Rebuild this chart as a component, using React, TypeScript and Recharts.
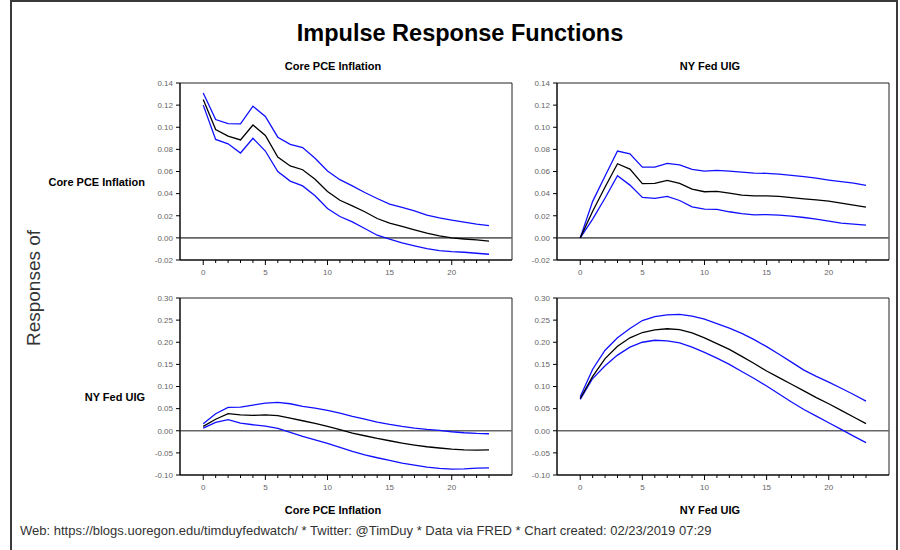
import React from "react";
import { LineChart, Line, XAxis, YAxis, ReferenceLine, ReferenceArea } from "recharts";

const FONT = "'Liberation Sans', Arial, Helvetica, sans-serif";

// horizon (periods after shock)
const periods = [0, 1, 2, 3, 4, 5, 6, 7, 8, 9, 10, 11, 12, 13, 14, 15, 16, 17, 18, 19, 20, 21, 22, 23];
const xLabelTicks = [0, 5, 10, 15, 20];

// Core PCE Inflation -> Core PCE Inflation
const pceToPce = [0.125, 0.098, 0.092, 0.0885, 0.102, 0.0925, 0.073, 0.065, 0.0616, 0.053, 0.042, 0.034, 0.029, 0.0236, 0.0175, 0.0133, 0.0103, 0.0073, 0.0042, 0.0018, 0.0, -0.001, -0.0018, -0.003];
const pceToPceHi = [0.131, 0.107, 0.1033, 0.103, 0.119, 0.1097, 0.091, 0.0846, 0.0816, 0.072, 0.0604, 0.0526, 0.047, 0.041, 0.0356, 0.0305, 0.0275, 0.0245, 0.0205, 0.018, 0.016, 0.0142, 0.0124, 0.011];
const pceToPceLo = [0.12, 0.089, 0.085, 0.0767, 0.09, 0.0785, 0.06, 0.0513, 0.047, 0.038, 0.0266, 0.0193, 0.0145, 0.0085, 0.0024, -0.0012, -0.0045, -0.0072, -0.0097, -0.0115, -0.0124, -0.013, -0.0139, -0.0148];

// Core PCE Inflation response to NY Fed UIG
const uigToPce = [0, 0.024, 0.046, 0.067, 0.0622, 0.049, 0.0492, 0.052, 0.0492, 0.044, 0.0417, 0.042, 0.0405, 0.0387, 0.038, 0.038, 0.0375, 0.0363, 0.0353, 0.0344, 0.0332, 0.0314, 0.0296, 0.0278];
const uigToPceHi = [0, 0.033, 0.056, 0.0785, 0.076, 0.064, 0.064, 0.0674, 0.066, 0.062, 0.0604, 0.061, 0.0604, 0.0595, 0.0586, 0.0583, 0.0577, 0.0565, 0.0553, 0.054, 0.0523, 0.0508, 0.0495, 0.0474];
const uigToPceLo = [0, 0.017, 0.036, 0.0562, 0.0477, 0.0366, 0.0357, 0.0375, 0.0338, 0.0281, 0.026, 0.0257, 0.0236, 0.022, 0.0208, 0.0211, 0.0205, 0.0196, 0.0184, 0.0169, 0.0151, 0.0133, 0.0125, 0.0115];

// NY Fed UIG response to Core PCE Inflation
const pceToUig = [0.0098, 0.026, 0.0385, 0.036, 0.0347, 0.036, 0.034, 0.0287, 0.0226, 0.0166, 0.0098, 0.0023, -0.0053, -0.0113, -0.0173, -0.0226, -0.028, -0.0324, -0.0362, -0.039, -0.0415, -0.043, -0.0437, -0.043];
const pceToUigHi = [0.0158, 0.0385, 0.0528, 0.0535, 0.058, 0.0626, 0.064, 0.061, 0.055, 0.0513, 0.046, 0.04, 0.0324, 0.0264, 0.0196, 0.0143, 0.0098, 0.006, 0.003, 0.0008, -0.0023, -0.0045, -0.006, -0.0068];
const pceToUigLo = [0.006, 0.0189, 0.0249, 0.0173, 0.0136, 0.0106, 0.0053, -0.0038, -0.0128, -0.0204, -0.0287, -0.0377, -0.0468, -0.0543, -0.061, -0.067, -0.0732, -0.0777, -0.0822, -0.0852, -0.0867, -0.086, -0.0845, -0.0837];

// NY Fed UIG -> NY Fed UIG
const uigToUig = [0.073, 0.123, 0.163, 0.191, 0.21, 0.222, 0.228, 0.2305, 0.2286, 0.221, 0.21, 0.197, 0.184, 0.168, 0.152, 0.135, 0.12, 0.105, 0.09, 0.075, 0.061, 0.046, 0.031, 0.016];
const uigToUigHi = [0.077, 0.139, 0.182, 0.21, 0.231, 0.249, 0.258, 0.262, 0.263, 0.259, 0.252, 0.242, 0.232, 0.22, 0.206, 0.19, 0.173, 0.155, 0.137, 0.123, 0.11, 0.096, 0.082, 0.067];
const uigToUigLo = [0.071, 0.118, 0.147, 0.171, 0.189, 0.2, 0.2045, 0.203, 0.1985, 0.189, 0.177, 0.164, 0.15, 0.134, 0.118, 0.101, 0.083, 0.065, 0.048, 0.033, 0.018, 0.003, -0.012, -0.027];

const topTicks = [-0.02, 0, 0.02, 0.04, 0.06, 0.08, 0.1, 0.12, 0.14];
const bottomTicks = [-0.1, -0.05, 0, 0.05, 0.1, 0.15, 0.2, 0.25, 0.3];

const X_DOMAIN = [-1.87, 24.85];

const rows = (mid: number[], hi: number[], lo: number[]) =>
    periods.map((p, i) => ({ p, mid: mid[i], hi: hi[i], lo: lo[i] }));

function XTick(props: any) {
    const { x, y, payload } = props;
    const major = xLabelTicks.includes(payload.value);
    return (
        <g>
            <line x1={x} x2={x} y1={y} y2={y + (major ? 5 : 3)} stroke="#000" />
            {major && (
                <text x={x} y={y + 15} textAnchor="middle" fontSize={8} fill="#666" fontFamily={FONT}>
                    {payload.value}
                </text>
            )}
        </g>
    );
}

function Panel({ left, top, data, domain, ticks }: any) {
    return (
        <div style={{ position: "absolute", left, top }}>
            <LineChart width={377} height={212} data={data} margin={{ top: 5, right: 5, bottom: 0, left: 0 }}>
                <XAxis
                    dataKey="p"
                    type="number"
                    domain={X_DOMAIN}
                    allowDataOverflow
                    ticks={periods}
                    interval={0}
                    height={30}
                    tickSize={0}
                    tickMargin={0}
                    tickLine={false}
                    axisLine={{ stroke: "#000" }}
                    tick={XTick}
                />
                <YAxis
                    type="number"
                    domain={domain}
                    allowDataOverflow
                    ticks={ticks}
                    interval={0}
                    width={40}
                    tickSize={4}
                    tickMargin={3}
                    tickFormatter={(v: number) => v.toFixed(2)}
                    tick={{ fontSize: 8, fill: "#666", fontFamily: FONT }}
                    axisLine={{ stroke: "#000" }}
                    tickLine={{ stroke: "#000" }}
                />
                <ReferenceArea
                    x1={X_DOMAIN[0]}
                    x2={X_DOMAIN[1]}
                    y1={domain[0]}
                    y2={domain[1]}
                    fill="none"
                    stroke="#222"
                    strokeWidth={1}
                    ifOverflow="visible"
                />
                <ReferenceLine y={0} stroke="#666" strokeWidth={1.6} />
                <Line type="linear" dataKey="hi" stroke="#1010ff" strokeWidth={1.3} dot={false} activeDot={false} isAnimationActive={false} />
                <Line type="linear" dataKey="lo" stroke="#1010ff" strokeWidth={1.3} dot={false} activeDot={false} isAnimationActive={false} />
                <Line type="linear" dataKey="mid" stroke="#000" strokeWidth={1.3} dot={false} activeDot={false} isAnimationActive={false} />
            </LineChart>
        </div>
    );
}

function Label({ x, y, text, size = 11, bold = true, align = "center" }: any) {
    const w = 600;
    const l = align === "center" ? x - w / 2 : x - w;
    return (
        <div
            style={{
                position: "absolute",
                left: l,
                top: y - size / 2,
                width: w,
                textAlign: align === "center" ? "center" : "right",
                fontSize: size,
                lineHeight: `${size}px`,
                fontWeight: bold ? 700 : 400,
                fontFamily: FONT,
                color: "#000",
                whiteSpace: "nowrap",
            }}
        >
            {text}
        </div>
    );
}

export default function App() {
    return (
        <div style={{ position: "absolute", left: 0, top: 0, width: 900, height: 550, overflow: "hidden", background: "#fff" }}>
            {/* outer frame */}
            <div style={{ position: "absolute", left: 10, top: 0, width: 888, height: 600, border: "2px solid #3a3a3a", boxSizing: "border-box" }} />

            <Label x={460} y={34} text="Impulse Response Functions" size={23.5} />

            <Label x={333} y={66} text="Core PCE Inflation" />
            <Label x={710} y={66} text="NY Fed UIG" />

            <Label x={145} y={182} text="Core PCE Inflation" align="right" />
            <Label x={145} y={397} text="NY Fed UIG" align="right" />

            <div
                style={{
                    position: "absolute",
                    left: 34 - 100,
                    top: 288 - 10,
                    width: 200,
                    height: 20,
                    lineHeight: "20px",
                    textAlign: "center",
                    fontSize: 19,
                    fontFamily: FONT,
                    color: "#333",
                    transform: "rotate(-90deg)",
                }}
            >
                Responses of
            </div>

            <Panel left={140} top={78} data={rows(pceToPce, pceToPceHi, pceToPceLo)} domain={[-0.02, 0.14]} ticks={topTicks} />
            <Panel left={517} top={78} data={rows(uigToPce, uigToPceHi, uigToPceLo)} domain={[-0.02, 0.14]} ticks={topTicks} />
            <Panel left={140} top={293} data={rows(pceToUig, pceToUigHi, pceToUigLo)} domain={[-0.1, 0.3]} ticks={bottomTicks} />
            <Panel left={517} top={293} data={rows(uigToUig, uigToUigHi, uigToUigLo)} domain={[-0.1, 0.3]} ticks={bottomTicks} />

            <Label x={333} y={510} text="Core PCE Inflation" />
            <Label x={710} y={510} text="NY Fed UIG" />

            <div
                style={{
                    position: "absolute",
                    left: 20,
                    top: 523,
                    fontSize: 13,
                    lineHeight: "15px",
                    fontFamily: FONT,
                    color: "#333",
                    whiteSpace: "nowrap",
                }}
            >
                Web: https://blogs.uoregon.edu/timduyfedwatch/ * Twitter: @TimDuy * Data via FRED * Chart created: 02/23/2019 07:29
            </div>
        </div>
    );
}
